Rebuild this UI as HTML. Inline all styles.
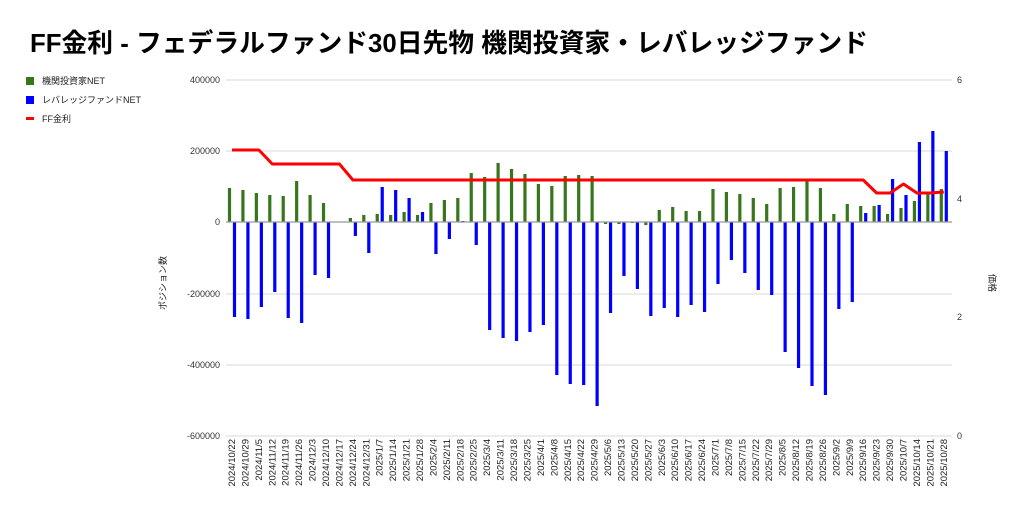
<!DOCTYPE html>
<html><head><meta charset="utf-8"><style>
body{margin:0;background:#fff;}
svg text{font-family:"Liberation Sans","Noto Sans CJK JP",sans-serif;}
</style></head><body>
<svg id="s" width="1024" height="516" viewBox="0 0 1024 516" xmlns="http://www.w3.org/2000/svg">
<rect width="1024" height="516" fill="#fff"/>
<text x="30" y="52" font-size="26" font-weight="bold" fill="#000" textLength="838" lengthAdjust="spacingAndGlyphs">FF金利 - フェデラルファンド30日先物 機関投資家・レバレッジファンド</text>
<rect x="26" y="77" width="8" height="8" fill="#38761d"/>
<text x="42" y="84" font-size="9" fill="#222">機関投資家NET</text>
<rect x="26" y="96" width="8" height="8" fill="#0000ff"/>
<text x="42" y="103" font-size="9" fill="#222">レバレッジファンドNET</text>
<rect x="26" y="117" width="8" height="3" fill="#ff0000"/>
<text x="42" y="122" font-size="9" fill="#222">FF金利</text>
<g stroke="#d9d9d9" stroke-width="1">
<line x1="226" y1="80" x2="952" y2="80"/><line x1="226" y1="151" x2="952" y2="151"/>
<line x1="226" y1="294" x2="952" y2="294"/><line x1="226" y1="365" x2="952" y2="365"/>
<line x1="226" y1="436" x2="952" y2="436"/>
</g>
<g font-size="9" fill="#333" text-anchor="end">
<text x="220" y="83">400000</text><text x="220" y="154">200000</text><text x="220" y="225">0</text>
<text x="220" y="297">-200000</text><text x="220" y="368">-400000</text><text x="220" y="439">-600000</text>
</g>
<g font-size="9" fill="#333">
<text x="957" y="83">6</text><text x="957" y="202">4</text><text x="957" y="320">2</text><text x="957" y="439">0</text>
</g>
<text transform="translate(166,283) rotate(-90)" font-size="9" fill="#222" text-anchor="middle">ポジション数</text>
<text transform="translate(989,283) rotate(90)" font-size="9" fill="#222" text-anchor="middle">価格</text>
<g id="bars"></g>
<line x1="226" y1="222" x2="952" y2="222" stroke="#999" stroke-width="1.2"/>
<polyline id="red" fill="none" stroke="#ff0000" stroke-width="3" stroke-linejoin="round"/>
<g font-size="9.5" fill="#222" text-anchor="end">
<text transform="translate(235,439) rotate(-90)">2024/10/22</text>
<text transform="translate(248.4,439) rotate(-90)">2024/10/29</text>
<text transform="translate(261.9,439) rotate(-90)">2024/11/5</text>
<text transform="translate(275.3,439) rotate(-90)">2024/11/12</text>
<text transform="translate(288.7,439) rotate(-90)">2024/11/19</text>
<text transform="translate(302.2,439) rotate(-90)">2024/11/26</text>
<text transform="translate(315.6,439) rotate(-90)">2024/12/3</text>
<text transform="translate(329,439) rotate(-90)">2024/12/10</text>
<text transform="translate(342.4,439) rotate(-90)">2024/12/17</text>
<text transform="translate(355.9,439) rotate(-90)">2024/12/24</text>
<text transform="translate(369.3,439) rotate(-90)">2024/12/31</text>
<text transform="translate(382.7,439) rotate(-90)">2025/1/7</text>
<text transform="translate(396.2,439) rotate(-90)">2025/1/14</text>
<text transform="translate(409.6,439) rotate(-90)">2025/1/21</text>
<text transform="translate(423,439) rotate(-90)">2025/1/28</text>
<text transform="translate(436.5,439) rotate(-90)">2025/2/4</text>
<text transform="translate(449.9,439) rotate(-90)">2025/2/11</text>
<text transform="translate(463.3,439) rotate(-90)">2025/2/18</text>
<text transform="translate(476.7,439) rotate(-90)">2025/2/25</text>
<text transform="translate(490.2,439) rotate(-90)">2025/3/4</text>
<text transform="translate(503.6,439) rotate(-90)">2025/3/11</text>
<text transform="translate(517,439) rotate(-90)">2025/3/18</text>
<text transform="translate(530.5,439) rotate(-90)">2025/3/25</text>
<text transform="translate(543.9,439) rotate(-90)">2025/4/1</text>
<text transform="translate(557.3,439) rotate(-90)">2025/4/8</text>
<text transform="translate(570.8,439) rotate(-90)">2025/4/15</text>
<text transform="translate(584.2,439) rotate(-90)">2025/4/22</text>
<text transform="translate(597.6,439) rotate(-90)">2025/4/29</text>
<text transform="translate(611,439) rotate(-90)">2025/5/6</text>
<text transform="translate(624.5,439) rotate(-90)">2025/5/13</text>
<text transform="translate(637.9,439) rotate(-90)">2025/5/20</text>
<text transform="translate(651.3,439) rotate(-90)">2025/5/27</text>
<text transform="translate(664.8,439) rotate(-90)">2025/6/3</text>
<text transform="translate(678.2,439) rotate(-90)">2025/6/10</text>
<text transform="translate(691.6,439) rotate(-90)">2025/6/17</text>
<text transform="translate(705.1,439) rotate(-90)">2025/6/24</text>
<text transform="translate(718.5,439) rotate(-90)">2025/7/1</text>
<text transform="translate(731.9,439) rotate(-90)">2025/7/8</text>
<text transform="translate(745.3,439) rotate(-90)">2025/7/15</text>
<text transform="translate(758.8,439) rotate(-90)">2025/7/22</text>
<text transform="translate(772.2,439) rotate(-90)">2025/7/29</text>
<text transform="translate(785.6,439) rotate(-90)">2025/8/5</text>
<text transform="translate(799.1,439) rotate(-90)">2025/8/12</text>
<text transform="translate(812.5,439) rotate(-90)">2025/8/19</text>
<text transform="translate(825.9,439) rotate(-90)">2025/8/26</text>
<text transform="translate(839.4,439) rotate(-90)">2025/9/2</text>
<text transform="translate(852.8,439) rotate(-90)">2025/9/9</text>
<text transform="translate(866.2,439) rotate(-90)">2025/9/16</text>
<text transform="translate(879.6,439) rotate(-90)">2025/9/23</text>
<text transform="translate(893.1,439) rotate(-90)">2025/9/30</text>
<text transform="translate(906.5,439) rotate(-90)">2025/10/7</text>
<text transform="translate(919.9,439) rotate(-90)">2025/10/14</text>
<text transform="translate(933.4,439) rotate(-90)">2025/10/21</text>
<text transform="translate(946.8,439) rotate(-90)">2025/10/28</text>
</g>
</svg>
<script>
var G=[188,190,193,195,196,181,195,203,222,218,215,214,215,212,215,203,200,198,173,177,163,169,174,184,186,176,175,176,224,224,223,225,210,207,211,211,189,192,194,198,204,188,187,181,188,214,204,206,206,214,208,201,193,189];
var B=[317,319,307,292,318,323,275,278,222,236,253,187,190,198,212,254,239,221,245,330,338,341,332,325,375,384,385,406,313,276,289,316,308,317,305,312,284,260,273,290,295,352,368,386,395,309,302,213,205,179,195,142,131,151];
var R=[150,150,150,164,164,164,164,164,164];
for(var i=9;i<=47;i++)R.push(180);
R=R.concat([193,193,184,193,193,192]);
var ns="http://www.w3.org/2000/svg",g=document.getElementById("bars"),pts=[];
function bar(x,y1,y2,c){var r=document.createElementNS(ns,"rect");var t=Math.min(y1,y2),h=Math.abs(y2-y1);if(h<0.5)return;r.setAttribute("x",x-1.6);r.setAttribute("y",t);r.setAttribute("width",3.2);r.setAttribute("height",h);r.setAttribute("fill",c);g.appendChild(r);}
for(var i=0;i<54;i++){var c=232+13.43*i;bar(c-2.5,G[i],222,"#38761d");bar(c+2.5,B[i],222,"#0000ff");pts.push(c.toFixed(1)+","+R[i]);}
document.getElementById("red").setAttribute("points",pts.join(" "));
</script>
</body></html>
